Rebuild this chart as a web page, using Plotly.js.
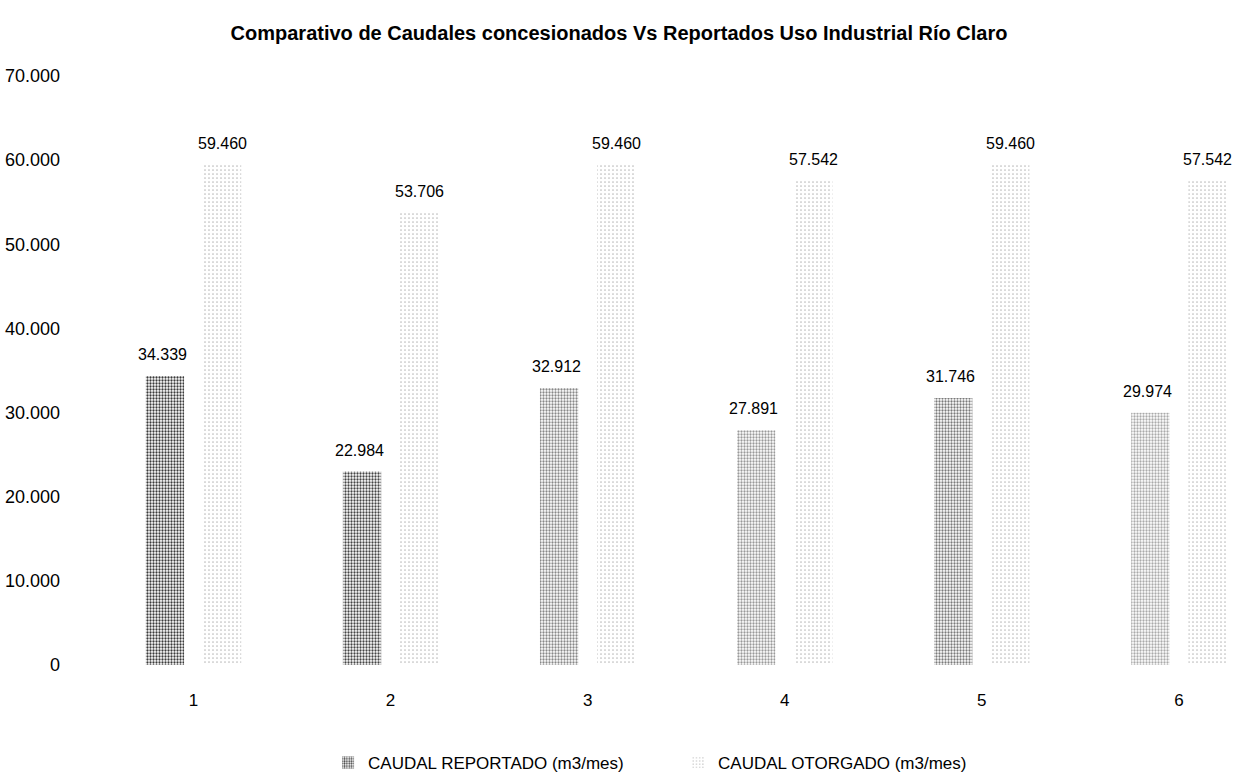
<!DOCTYPE html>
<html>
<head>
<meta charset="utf-8">
<script src="https://cdn.plot.ly/plotly-3.0.1.min.js"></script>
<style>html,body{margin:0;padding:0;background:#fff;}#chart{width:1238px;height:772px;}</style>
</head>
<body>
<div id="chart"></div>
<script>
var categories = ['1', '2', '3', '4', '5', '6'];
var reportado = [34339, 22984, 32912, 27891, 31746, 29974];
var otorgado = [59460, 53706, 59460, 57542, 59460, 57542];
var seriesNames = ['CAUDAL REPORTADO (m3/mes)', 'CAUDAL OTORGADO (m3/mes)'];
var yTicks = [0, 10000, 20000, 30000, 40000, 50000, 60000, 70000];

var FONT = '"Liberation Sans", Arial, sans-serif';

function fmt(v) {
  return String(v).replace(/\B(?=(\d{3})+(?!\d))/g, '.');
}

var xs = categories.map(function (c, i) { return i + 1; });

var traceRep = {
  type: 'bar', name: seriesNames[0], x: xs, y: reportado,
  marker: {
    color: '#ffffff',
    line: {width: 0},
    pattern: {shape: '.', fgcolor: ['#3a3a3a', '#444', '#888', '#999', '#7a7a7a', '#aaa'], size: 3, solidity: 0.45}
  },
  hoverinfo: 'y'
};
var traceOto = {
  type: 'bar', name: seriesNames[1], x: xs, y: otorgado,
  marker: {
    color: '#ffffff',
    line: {width: 0},
    pattern: {shape: '.', fgcolor: '#bdbdbd', size: 4, solidity: 0.15}
  },
  hoverinfo: 'y'
};

var annotations = [];
[reportado, otorgado].forEach(function (arr, s) {
  arr.forEach(function (v, i) {
    annotations.push({
      x: xs[i], y: v, xref: 'x', yref: 'y', text: fmt(v), showarrow: false,
      xshift: s === 0 ? -31 : 29, yshift: 11, yanchor: 'bottom',
      font: {family: FONT, size: 16, color: '#000'}
    });
  });
});

var layout = {
  width: 1238, height: 772,
  paper_bgcolor: '#ffffff', plot_bgcolor: '#ffffff',
  margin: {l: 95, r: 0, t: 76, b: 107, autoexpand: false},
  title: {
    text: '<b>Comparativo de Caudales concesionados Vs Reportados Uso Industrial Río Claro</b>',
    font: {family: FONT, size: 20, color: '#000'},
    x: 0.5, xanchor: 'center', xref: 'container',
    y: 0.957, yanchor: 'middle', yref: 'container'
  },
  barmode: 'group', bargap: 0.42, bargroupgap: 0.33,
  separators: ',.',
  xaxis: {
    range: [0.5, 6.3], tickmode: 'array', tickvals: xs, ticktext: categories,
    showgrid: false, zeroline: false, showline: false, ticks: '',
    ticklabelstandoff: 23,
    tickfont: {family: FONT, size: 17, color: '#000'}
  },
  yaxis: {
    range: [0, 70000], tickmode: 'array', tickvals: yTicks, ticktext: yTicks.map(fmt),
    showgrid: false, zeroline: false, showline: false, ticks: '',
    ticklabelstandoff: 34,
    tickfont: {family: FONT, size: 18, color: '#000'}
  },
  showlegend: true,
  legend: {
    orientation: 'h', xref: 'container', yref: 'container',
    x: 0.265, xanchor: 'left', y: 0.0117, yanchor: 'middle',
    font: {family: FONT, size: 17, color: '#000'},
    itemwidth: 30, entrywidth: 305, tracegroupgap: 0
  },
  annotations: annotations
};

Plotly.newPlot('chart', [traceRep, traceOto], layout, {displayModeBar: false, staticPlot: true});
</script>
</body>
</html>
